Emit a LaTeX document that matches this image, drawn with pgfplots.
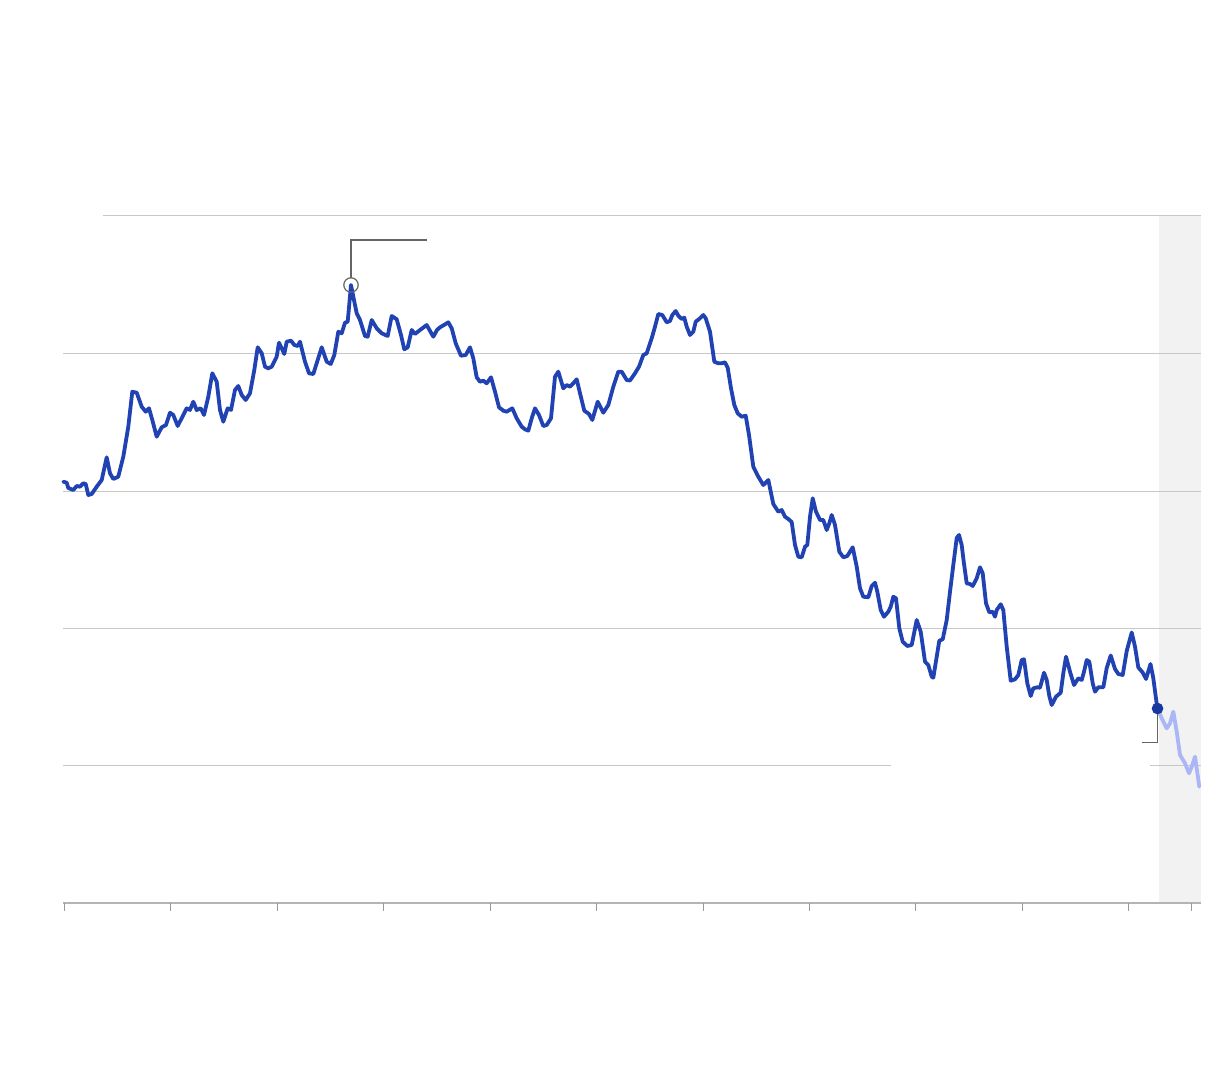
\documentclass[border=0pt]{standalone}
\usepackage{pgfplots}
\pgfplotsset{compat=1.18}
\definecolor{lineblue}{RGB}{33,66,178}
\definecolor{dotblue}{RGB}{24,56,160}
\definecolor{fadeblue}{RGB}{170,182,246}
\definecolor{gridgray}{RGB}{200,200,200}
\definecolor{bandgray}{RGB}{242,242,242}
\definecolor{annot}{RGB}{100,100,100}

\pgfplotstableread{
x y
63.3 481.7
66.7 482.7
68.3 488
73.3 490
76.7 486
80 486.7
83.3 483.3
85.7 484
88.3 495
91.7 494
96.7 486.7
101.7 480
106.7 457.3
110 473.3
113.3 479
118.3 476.7
123.3 456.7
128.3 426.7
132.3 391.7
136.7 392.7
141.7 406.7
145.7 411.7
149 408.3
152.3 420
156.7 436.7
161.7 427.3
166 425
170 412.7
173.3 415
177.7 426
183.3 415
186.7 408.3
190 410
193.3 401.7
196.7 410
200.7 408.3
204 415
208.3 396.7
212.3 373.3
216.7 381.7
220 410
223.3 421.7
227.7 408.3
231 410
235 390
238.3 386
241.7 395
245.7 400
250 393.3
254.3 370
257.7 347.3
261.7 353.3
265 366.7
268.3 368.3
271.7 366.7
276.7 356.7
279 342.7
281.7 348.3
284.3 354
286.7 341.7
291 340.7
294.3 345
297.7 346
300 341.7
305 361.7
309 373.3
313.3 374
317.7 360
321.7 347.3
326.7 361.7
330.7 364
334.3 355
338.3 331.7
341.7 333.3
345 322.7
347.7 321.7
351 285
353.3 296.7
356.7 313.3
360 320
365 336
367.7 336.7
371.7 320
376.7 328.3
381.7 333.3
387.7 336
391.7 316
396.7 319.3
401 335
404.3 349.3
407.7 347.3
411.7 330
415 334
420 330
426.7 325
433.3 336.7
437 330
440 327.3
444 325
448.3 322.3
451.7 328.3
455.7 343.3
461 355.7
465.7 355
470 347.3
473.3 358.3
476.7 377.3
480 381.7
483.3 380.7
486.7 383.3
491 377.3
495 391.7
499 407.3
503.3 410.7
506.7 411.7
512.3 408.3
516.7 418.3
521.7 426.7
525 429.3
528.3 430.7
531.7 418.3
535 408.3
539 415
543.3 426
546.7 425
551 418.3
555 376.7
558.3 371.7
563.3 388.3
566.7 385
570 386.7
573.3 383.3
576.7 379.3
580 393.3
584.3 410.7
589 414
592.3 420
597.7 401.7
603.3 412.7
608.3 405
613.3 386.7
618.3 371.7
621.7 371.7
626.7 380
630 380.5
635 373.3
639 366.7
643.3 355
646.7 353.3
651.7 338.3
655 326.7
658.3 314
662.3 315
666.7 322.3
670 321
672.3 315
675.7 311
678.3 315.7
681.7 319
684.3 317.7
686.7 326.7
690 335
693.3 331.7
695.7 321.7
700 318.3
703.3 315
705.7 318.3
710 331.7
714.3 361.7
718.3 363.3
721.7 363.3
725 362.3
727.7 367.7
731 388.3
734.3 405
737.7 413.3
741.7 416.7
745.7 415.7
749 435
753.3 466.7
758.3 476.7
763.3 485
768.3 480
773.3 504
778.3 511.7
781.7 510
785 516.7
788.3 519
791.7 522
795 545
798.3 556.7
801.7 557.3
805 546.7
807.3 545
810 516.7
812.7 498.3
816 511.7
820 520
823.3 520
826.7 530
829.3 523.3
831.7 515
835 525
839.3 551.7
843.3 557.3
847.3 556
852.7 547.3
856.7 566.7
860 588.3
863.3 596.7
868.3 597.3
871.7 586
875 582.7
877.3 591.7
880.7 610
884 616.7
888.3 611.7
890.7 606.7
893.3 596.7
896 598.3
899.3 628.3
902.7 641.7
907.3 646
911.7 645
916.7 620
920.7 631.7
925 661.7
928.3 665
931.7 676.7
933.3 677.7
936.7 656.7
939.3 640.7
942.7 639.3
946.7 620
950 591.7
953.3 565
956.7 538
959 535
961.7 545
963.5 560
966.7 583.3
970 584
972.7 586
976.7 578.3
980 567.3
982.7 573.3
986 603.3
989.3 612.3
992.7 611.7
995 616.7
996.7 610
1000.7 604.3
1003.3 610
1006.7 646.7
1010.7 680.7
1015 679.3
1018.3 675
1021.7 660
1024 659.3
1027.3 683.3
1030.7 696
1033.3 688.3
1037.3 687.3
1040 687.7
1044 672.7
1046.7 680
1049.3 696
1051.7 705
1056 696.7
1060.7 692.7
1063.3 673.3
1066 656.7
1070 671.7
1074 685
1078.3 678.3
1081.7 680
1084 671.7
1086.7 660
1089.3 661.7
1092.7 683.3
1095 691.7
1098.3 687.3
1103.3 687.3
1106.7 668
1110.7 655.5
1115 669
1118.3 674
1122.7 675
1126.7 651
1131.7 632.5
1135 646.7
1138.3 667.5
1142.7 672.5
1146 679
1150.5 664
1153.3 678.3
1157.3 708.3
}\mainline

\pgfplotstableread{
x y
1157.3 708.3
1161.7 718.3
1166.7 728.3
1170 723.3
1173.3 711.7
1176.7 731.7
1180 755
1185 763.3
1189 773.3
1191.7 766.7
1195 756.7
1199.3 786.7
}\forecast

\begin{document}
\begin{tikzpicture}
\begin{axis}[
    scale only axis,
    width=568.5pt,
    height=343.5pt,
    xmin=64, xmax=1201,
    ymin=216, ymax=903,
    y dir=reverse,
    hide axis,
    clip=false,
]
% page frame (1224 x 1080 px)
\path (axis cs:0,0) rectangle (axis cs:1224,1080);

% shaded projection band
\fill[bandgray] (axis cs:1159,216) rectangle (axis cs:1201,903);

% gridlines
\draw[gridgray, line width=0.5pt] (axis cs:103,216) -- (axis cs:1201,216);
\draw[gridgray, line width=0.5pt] (axis cs:63,353.5) -- (axis cs:1201,353.5);
\draw[gridgray, line width=0.5pt] (axis cs:63,491) -- (axis cs:1201,491);
\draw[gridgray, line width=0.5pt] (axis cs:63,628) -- (axis cs:1201,628);
\draw[gridgray, line width=0.5pt] (axis cs:63,765.5) -- (axis cs:891,765.5);
\draw[gridgray, line width=0.5pt] (axis cs:1150,765.5) -- (axis cs:1201,765.5);

% baseline and ticks
\draw[gridgray!90!black, line width=0.9pt] (axis cs:63,903) -- (axis cs:1201,903);
\pgfplotsinvokeforeach{64,170.5,277,383.5,490,596.5,703,809,915.5,1022,1128.5,1191}{
  \draw[black!40, line width=0.4pt] (axis cs:#1,903) -- (axis cs:#1,911);
}

% series
\addplot[fadeblue, line width=1.9pt, line join=round, line cap=round] table[x=x,y=y] {\forecast};
\addplot[lineblue, line width=1.9pt, line join=round, line cap=round] table[x=x,y=y] {\mainline};

% annotations
\draw[annot, line width=0.6pt] (axis cs:351,278) -- (axis cs:351,240) -- (axis cs:427,240);
\addplot[only marks, mark=o, mark size=3.6pt, mark options={annot, line width=0.6pt}] coordinates {(351,285)};
\draw[annot, line width=0.7pt] (axis cs:1157.5,710) -- (axis cs:1157.5,742.5) -- (axis cs:1142,742.5);
\addplot[only marks, mark=*, mark size=2.7pt, mark options={dotblue, fill=dotblue}] coordinates {(1157.5,708.5)};
\end{axis}
\end{tikzpicture}
\end{document}
